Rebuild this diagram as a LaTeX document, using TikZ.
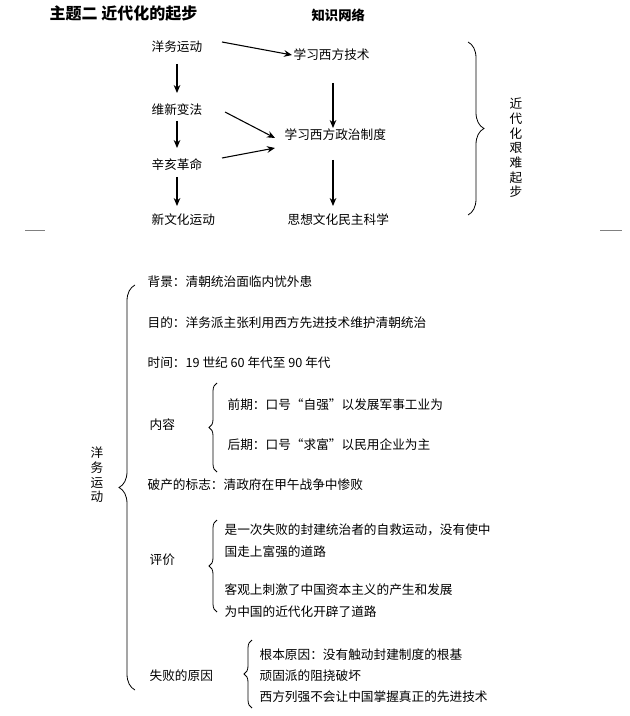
\documentclass[tikz,border=0pt]{standalone}
\usepackage{fontspec}
\setmainfont{Noto Sans CJK SC}
\usetikzlibrary{decorations.pathreplacing,arrows.meta}
\begin{document}
\begin{tikzpicture}[x=0.75pt,y=-0.75pt,
  txt/.style={anchor=west,inner sep=1pt,font=\fontsize{9.5}{11}\selectfont},
  ar/.style={-{Stealth[length=6pt,width=5pt]},line width=0.8pt},
  brc/.style={decorate,decoration={brace,amplitude=#1},line width=0.6pt}]
\useasboundingbox[fill=white] (0,0) rectangle (630,716);
\node[txt,font=\fontsize{12}{14}\selectfont\bfseries] (title) at (48,14) {主题二\ 近代化的起步};
\node[txt,font=\fontsize{10}{12}\selectfont\bfseries] (net) at (310,15) {知识网络};
% top network
\node[txt] (yw) at (150,47) {洋务运动};
\node[txt] (wx) at (150,110) {维新变法};
\node[txt] (xh) at (150,165) {辛亥革命};
\node[txt] (xwh) at (150,220) {新文化运动};
\node[txt] (js) at (292,55) {学习西方技术};
\node[txt] (zz) at (283,135) {学习西方政治制度};
\node[txt] (sx) at (286,220) {思想文化民主科学};
\draw[ar] (222,42) -- (js.west);
\draw[ar] (177,64) -- (177,93);
\draw[ar] (177,121) -- (177,148);
\draw[ar] (177,177) -- (177,206);
\draw[ar] (225,112) -- (275,138);
\draw[ar] (222,158) -- (275,148);
\draw[ar] (333,83) -- (333,128);
\draw[ar] (333,160) -- (333,206);
\draw[brc=12pt] (468,42) -- (468,215);
\node[font=\fontsize{9.5}{11}\selectfont,align=center,inner sep=0pt] (jd) at (516,148) {近\\代\\化\\艰\\难\\起\\步};
\draw[gray,line width=0.5pt] (25,230) -- (45,230);
\draw[gray,line width=0.5pt] (600,230) -- (622,230);
% bottom
\node[font=\fontsize{9.5}{11}\selectfont,align=center,inner sep=0pt] (ywv) at (97,475) {洋\\务\\运\\动};
\draw[brc=12pt] (135,690) -- (135,285);
\node[txt] (bj) at (146,282) {背景：清朝统治面临内忧外患};
\node[txt] (md) at (146,323) {目的：洋务派主张利用西方先进技术维护清朝统治};
\node[txt] (sj) at (146,363) {时间：19 世纪 60 年代至 90 年代};
\node[txt] (nr) at (148,425) {内容};
\draw[brc=6pt] (217,472) -- (217,383);
\node[txt] (qq) at (226,405) {前期：口号“自强”以发展军事工业为};
\node[txt] (hq) at (226,445) {后期：口号“求富”以民用企业为主};
\node[txt] (pc) at (146,485) {破产的标志：清政府在甲午战争中惨败};
\node[txt] (pj) at (148,560) {评价};
\draw[brc=6pt] (217,612) -- (217,520);
\node[txt] (p1) at (223,530) {是一次失败的封建统治者的自救运动，没有使中};
\node[txt] (p2) at (223,552) {国走上富强的道路};
\node[txt] (p3) at (223,590) {客观上刺激了中国资本主义的产生和发展};
\node[txt] (p4) at (223,612) {为中国的近代化开辟了道路};
\node[txt] (sb) at (148,676) {失败的原因};
\draw[brc=6pt] (252,708) -- (252,640);
\node[txt] (r1) at (258,655) {根本原因：没有触动封建制度的根基};
\node[txt] (r2) at (258,676) {顽固派的阻挠破坏};
\node[txt] (r3) at (258,697) {西方列强不会让中国掌握真正的先进技术};
\end{tikzpicture}
\end{document}
